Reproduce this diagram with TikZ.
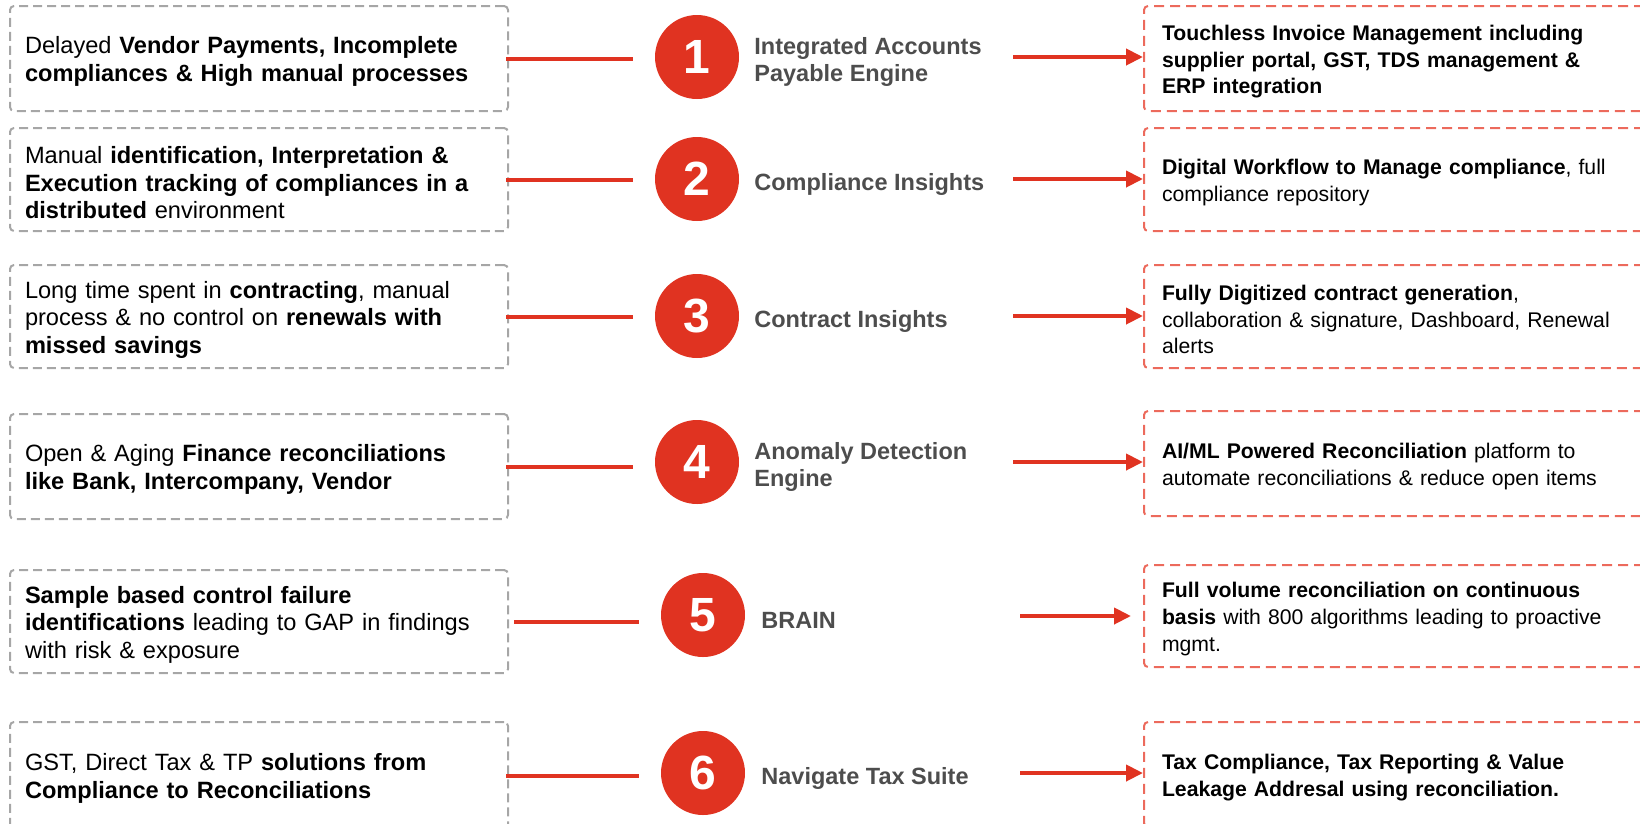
\documentclass[tikz,border=0pt]{standalone}
\usepackage{fontspec}
\setmainfont{Liberation Sans}
\usetikzlibrary{positioning,arrows.meta}
\definecolor{brick}{HTML}{E03321}
\definecolor{salmon}{HTML}{EC6A5C}
\definecolor{ash}{HTML}{A6A6A6}
\definecolor{slate}{HTML}{4D4D4D}

\begin{document}
\begin{tikzpicture}[x=1pt, y=-1pt,
    lbox/.style={draw=ash, line width=2pt, dash pattern=on 9pt off 5pt, rounded corners=4pt,
      text width=468pt, inner xsep=15pt, align=left, font=\fontsize{23.6}{27.7}\selectfont,
      execute at begin node=\rule{0pt}{23.5pt}},
    rbox/.style={draw=salmon, line width=2pt, dash pattern=on 10pt off 6pt, rounded corners=4pt,
      text width=484pt, inner xsep=18pt, align=left, font=\fontsize{21.2}{26.7}\selectfont,
      execute at begin node=\rule{0pt}{21.5pt}},
    num/.style={circle, fill=brick, minimum size=84pt, inner sep=0pt, text=white,
      font=\fontsize{48}{48}\selectfont\bfseries},
    stage/.style={inner sep=0pt, align=left, text=slate, yshift=-5pt,
      font=\fontsize{23.5}{27.7}\selectfont\bfseries},
    link/.style={draw=brick, line width=4pt, shorten <=-3pt, shorten >=22pt},
    arr/.style={draw=brick, line width=4pt, shorten <=274pt, -{Triangle[length=17pt,width=16pt]}}]
    \useasboundingbox (0,0) rectangle (1640,823);
    \clip (0,0) rectangle (1640,823);

    % problems
    \node[lbox, minimum height=105pt] (L1) at (259,58.5) {Delayed \textbf{Vendor Payments, Incomplete}\\\textbf{compliances \& High manual processes}};
    \node[lbox, minimum height=103pt] (L2) at (259,179.5) {Manual \textbf{identification, Interpretation \&}\\\textbf{Execution tracking of compliances in a}\\\textbf{distributed} environment};
    \node[lbox, minimum height=103pt] (L3) at (259,316.5) {Long time spent in \textbf{contracting}, manual\\process \& no control on \textbf{renewals with}\\\textbf{missed savings}};
    \node[lbox, minimum height=105pt] (L4) at (259,466.5) {Open \& Aging \textbf{Finance reconciliations}\\\textbf{like Bank, Intercompany, Vendor}};
    \node[lbox, minimum height=103pt] (L5) at (259,621.5) {\textbf{Sample based control failure}\\\textbf{identifications} leading to GAP in findings\\with risk \& exposure};
    \node[lbox, minimum height=107pt] (L6) at (259,775.5) {GST, Direct Tax \& TP \textbf{solutions from}\\\textbf{Compliance to Reconciliations}};

    % numbered stages
    \node[num] (N1) at (697,57) {1};
    \node[num] (N2) at (697,179) {2};
    \node[num] (N3) at (697,316) {3};
    \node[num] (N4) at (697,462) {4};
    \node[num] (N5) at (703,615) {5};
    \node[num] (N6) at (703,773) {6};

    \node[stage, right=15pt of N1] (S1) {Integrated Accounts\\Payable Engine};
    \node[stage, right=15pt of N2] (S2) {Compliance Insights};
    \node[stage, right=15pt of N3] (S3) {Contract Insights};
    \node[stage, right=15pt of N4] (S4) {Anomaly Detection\\Engine};
    \node[stage, right=16pt of N5] (S5) {BRAIN};
    \node[stage, right=16pt of N6] (S6) {Navigate Tax Suite};

    % outcomes
    \node[rbox, minimum height=105pt] (R1) at (1404,58.5) {\textbf{Touchless Invoice Management including}\\\textbf{supplier portal, GST, TDS management \&}\\\textbf{ERP integration}};
    \node[rbox, minimum height=103pt] (R2) at (1404,179.5) {\textbf{Digital Workflow to Manage compliance}, full\\compliance repository};
    \node[rbox, minimum height=103pt] (R3) at (1404,316.5) {\textbf{Fully Digitized contract generation},\\collaboration \& signature, Dashboard, Renewal\\alerts};
    \node[rbox, minimum height=105pt] (R4) at (1404,463.5) {\textbf{AI/ML Powered Reconciliation} platform to\\automate reconciliations \& reduce open items};
    \node[rbox, minimum height=102pt] (R5) at (1404,616) {\textbf{Full volume reconciliation on continuous}\\\textbf{basis} with 800 algorithms leading to proactive\\mgmt.};
    \node[rbox, minimum height=105pt] (R6) at (1404,774.5) {\textbf{Tax Compliance, Tax Reporting \& Value}\\\textbf{Leakage Addresal using reconciliation.}};

    % connectors
    \draw[link] (L1.east) -- (L1.east -| N1.west);
    \draw[link] (L2.east) -- (L2.east -| N2.west);
    \draw[link] (L3.east) -- (L3.east -| N3.west);
    \draw[link] (L4.east) -- (L4.east -| N4.west);
    \draw[link, shorten <=5pt] (L5.east) -- (L5.east -| N5.west);
    \draw[link] (L6.east) -- (L6.east -| N6.west);

    \draw[arr] (N1.east) -- (N1 -| R1.west);
    \draw[arr] (N2.east) -- (N2 -| R2.west);
    \draw[arr] (N3.east) -- (N3 -| R3.west);
    \draw[arr] (N4.east) -- (N4 -| R4.west);
    \draw[arr, shorten <=275pt, shorten >=12pt] (R5.west -| N5.east) -- (R5.west);
    \draw[arr, shorten <=275pt] (N6.east) -- (N6 -| R6.west);
\end{tikzpicture}
\end{document}
